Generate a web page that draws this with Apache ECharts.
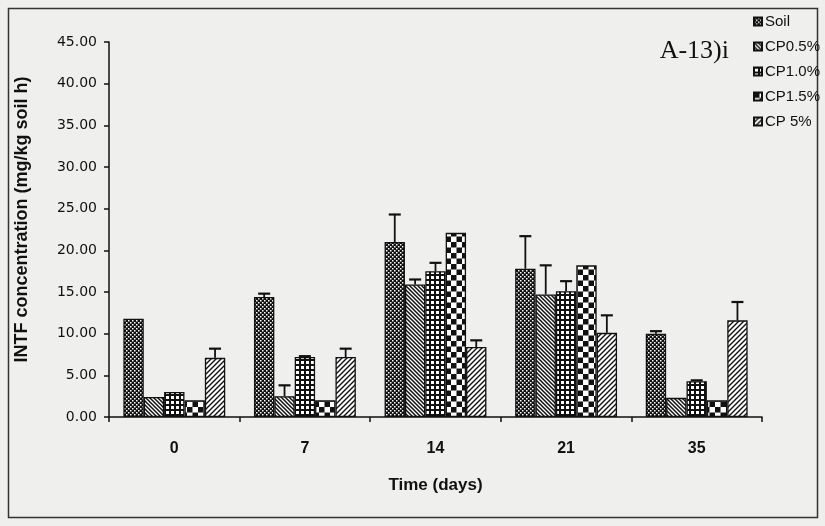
<!DOCTYPE html>
<html><head><meta charset="utf-8">
<script src="https://cdn.jsdelivr.net/npm/echarts@6/dist/echarts.min.js"></script>
<style>html,body{margin:0;padding:0;background:#efefed;}#c{width:825px;height:526px;}</style>
</head><body><div id="c"></div>
<script>
var categories = ['0', '7', '14', '21', '35'];
var seriesNames = ['Soil', 'CP0.5%', 'CP1.0%', 'CP1.5%', 'CP 5%'];
var soil   = [11.8, 14.4, 21.0, 17.8, 10.0];
var cp05   = [2.4, 2.5, 15.9, 14.7, 2.3];
var cp10   = [3.0, 7.2, 17.5, 15.1, 4.3];
var cp15   = [2.0, 2.0, 22.1, 18.2, 2.0];
var cp5    = [7.1, 7.2, 8.4, 10.1, 11.6];
var soilErr = [0, 0.4, 3.3, 3.9, 0.3];
var cp05Err = [0, 1.3, 0.6, 3.5, 0];
var cp10Err = [0, 0.1, 1.0, 1.2, 0.1];
var cp15Err = [0, 0, 0, 0, 0];
var cp5Err  = [1.1, 1.0, 0.8, 2.1, 2.2];
var yTicks = [0, 5, 10, 15, 20, 25, 30, 35, 40, 45];

var values = [soil, cp05, cp10, cp15, cp5];
var errs = [soilErr, cp05Err, cp10Err, cp15Err, cp5Err];

function mk(w, h, draw) {
  var c = document.createElement('canvas'); c.width = w; c.height = h;
  var g = c.getContext('2d'); draw(g, w, h);
  return {image: c, repeat: 'repeat'};
}
var patterns = [
  mk(4, 4, function (g) { g.fillStyle = '#111'; g.fillRect(0,0,4,4); g.fillStyle = '#fff'; g.fillRect(0,0,1.5,1.5); g.fillRect(2,2,1.5,1.5); }),
  mk(4, 4, function (g) { g.fillStyle = '#fff'; g.fillRect(0,0,4,4); g.strokeStyle = '#111'; g.lineWidth = 1.5; g.beginPath();
    g.moveTo(-1,-1); g.lineTo(5,5); g.moveTo(-1,3); g.lineTo(1,5); g.moveTo(3,-1); g.lineTo(5,1); g.stroke(); }),
  mk(5, 5, function (g) { g.fillStyle = '#111'; g.fillRect(0,0,5,5); g.fillStyle = '#fff'; g.fillRect(1,1,3,3); }),
  mk(11, 11, function (g) { g.fillStyle = '#fff'; g.fillRect(0,0,11,11); g.fillStyle = '#111'; g.fillRect(0,0,5.5,5.5); g.fillRect(5.5,5.5,5.5,5.5); }),
  mk(5, 5, function (g) { g.fillStyle = '#fff'; g.fillRect(0,0,5,5); g.strokeStyle = '#111'; g.lineWidth = 1.4; g.beginPath();
    g.moveTo(-1,6); g.lineTo(6,-1); g.moveTo(-1,1); g.lineTo(1,-1); g.moveTo(4,6); g.lineTo(6,4); g.stroke(); })
];

var BAR_CAT_GAP = 0.22;
var series = [];
values.forEach(function (v, i) {
  series.push({
    name: seriesNames[i], type: 'bar', data: v,
    barGap: '0%', barCategoryGap: '22%',
    itemStyle: {color: patterns[i], borderColor: '#111', borderWidth: 1.3},
    emphasis: {disabled: true}, z: 2
  });
});
values.forEach(function (v, i) {
  var e = errs[i];
  var data = v.map(function (val, k) { return [k, val, val + e[k]]; }).filter(function (d, k) { return e[k] > 0; });
  series.push({
    type: 'custom', name: seriesNames[i] + ' err', data: data, z: 3, silent: true,
    renderItem: function (params, api) {
      var k = api.value(0);
      var p0 = api.coord([k, api.value(1)]);
      var p1 = api.coord([k, api.value(2)]);
      var catW = api.size([1, 0])[0];
      var groupW = catW * (1 - BAR_CAT_GAP);
      var bw = groupW / 5;
      var x = p0[0] - groupW / 2 + (i + 0.5) * bw;
      return {type: 'group', children: [
        {type: 'line', shape: {x1: x, y1: p0[1], x2: x, y2: p1[1]}, style: {stroke: '#111', lineWidth: 1.8}},
        {type: 'line', shape: {x1: x - 6, y1: p1[1], x2: x + 6, y2: p1[1]}, style: {stroke: '#111', lineWidth: 2.2}}
      ]};
    }
  });
});

var chart = echarts.init(document.getElementById('c'));
chart.setOption({
  animation: false,
  backgroundColor: '#efefed',
  textStyle: {fontFamily: 'Liberation Sans, Arial, sans-serif'},
  grid: {left: 109, right: 63, top: 42, bottom: 109, containLabel: false},
  legend: {
    data: seriesNames, orient: 'vertical', left: 748, top: 9, itemGap: 10,
    itemWidth: 8, itemHeight: 8, icon: 'rect',
    textStyle: {fontFamily: 'Liberation Sans, Arial', fontSize: 15, color: '#111', padding: [0,0,0,-2]}
  },
  graphic: [
    {type: 'rect', shape: {x: 8.5, y: 8.5, width: 809, height: 509}, style: {fill: null, stroke: '#333', lineWidth: 1.5}, z: 0},
    {type: 'text', right: 96, top: 38, style: {text: 'A-13)i', font: '26px "Liberation Serif", "Times New Roman", serif', fill: '#111'}}
  ],
  xAxis: {
    type: 'category', data: categories,
    name: 'Time (days)', nameLocation: 'middle', nameGap: 60,
    nameTextStyle: {fontWeight: 'bold', fontSize: 17, color: '#111'},
    axisLine: {lineStyle: {color: '#111', width: 1.5}},
    axisTick: {show: true, length: 5, lineStyle: {color: '#111', width: 1.5}},
    axisLabel: {fontSize: 16, fontWeight: 'bold', color: '#111', margin: 24}
  },
  yAxis: {
    type: 'value', min: 0, max: 45, interval: 5,
    name: 'INTF concentration (mg/kg soil h)', nameLocation: 'middle', nameGap: 78, nameRotate: 90,
    nameTextStyle: {fontWeight: 'bold', fontSize: 18, color: '#111', padding: [0, 0, 0, 20]},
    axisLine: {show: true, lineStyle: {color: '#111', width: 1.5}},
    axisTick: {show: true, length: 5, lineStyle: {color: '#111', width: 1.5}},
    splitLine: {show: false},
    axisLabel: {fontFamily: 'DejaVu Sans, sans-serif', fontSize: 14, color: '#111', margin: 12,
      formatter: function (v) { return yTicks.indexOf(v) >= 0 ? v.toFixed(2) : ''; }}
  },
  series: series
});
</script></body></html>
